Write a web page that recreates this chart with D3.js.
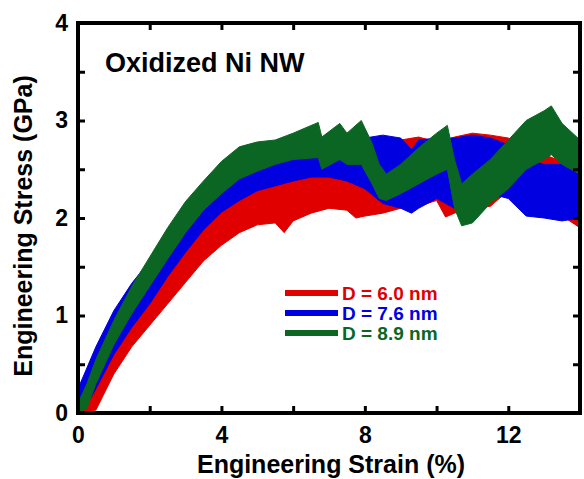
<!DOCTYPE html>
<html>
<head>
<meta charset="utf-8">
<script src="https://cdn.jsdelivr.net/npm/d3@7"></script>
<style>
  body { margin: 0; background: #fff; }
  text { font-family: "Liberation Sans", Arial, sans-serif; font-weight: bold; }
</style>
</head>
<body>
<svg class="chart"></svg>
<script>
// Total dimensions
var w = 584,
    h = 479;

// Band data: strain (%), lower and upper stress (GPa)
var redStrain = [0.1, 0.5, 1.0, 1.5, 2.0, 2.5, 3.0, 3.5, 4.0, 4.5, 5.0, 5.5, 5.75, 6.0, 6.5, 7.0, 7.5, 7.75, 8.0, 8.5, 9.0, 9.5, 10.0, 10.25, 10.5, 11.0, 11.5, 12.0, 12.5, 13.0, 13.5, 14.0];
var redLow = [0, 0.03, 0.4, 0.68, 0.9, 1.12, 1.34, 1.56, 1.72, 1.85, 1.93, 1.95, 1.85, 1.97, 2.05, 2.1, 2.08, 2.0, 2.02, 2.05, 2.1, 2.12, 2.18, 2.01, 2.05, 2.1, 2.12, 2.28, 2.32, 2.2, 2.02, 1.9];
var redHigh = [0.05, 0.45, 0.85, 1.2, 1.5, 1.78, 2.0, 2.15, 2.28, 2.36, 2.4, 2.42, 2.43, 2.44, 2.46, 2.48, 2.5, 2.5, 2.52, 2.7, 2.8, 2.83, 2.78, 2.8, 2.83, 2.87, 2.85, 2.82, 2.75, 2.65, 2.58, 2.5];

var blueStrain = [0.0, 0.2, 0.5, 1.0, 1.5, 2.0, 2.5, 3.0, 3.5, 4.0, 4.5, 5.0, 5.5, 6.0, 6.5, 7.0, 7.5, 8.0, 8.5, 9.0, 9.3, 9.5, 10.0, 10.5, 11.0, 11.5, 12.0, 12.5, 13.0, 13.5, 14.0];
var blueLow = [0, 0.05, 0.25, 0.6, 0.88, 1.12, 1.4, 1.65, 1.88, 2.06, 2.18, 2.28, 2.33, 2.38, 2.42, 2.42, 2.38, 2.3, 2.15, 2.1, 2.05, 2.1, 2.2, 2.1, 2.2, 2.25, 2.2, 2.02, 2.0, 1.97, 2.0];
var blueHigh = [0.25, 0.42, 0.68, 1.05, 1.33, 1.56, 1.8, 2.05, 2.28, 2.42, 2.52, 2.6, 2.66, 2.72, 2.75, 2.75, 2.78, 2.82, 2.85, 2.82, 2.7, 2.8, 2.82, 2.82, 2.85, 2.82, 2.75, 2.6, 2.55, 2.55, 2.45];

var greenStrain = [0.0, 0.25, 0.5, 1.0, 1.5, 2.0, 2.5, 3.0, 3.5, 4.0, 4.5, 5.0, 5.5, 6.0, 6.7, 6.8, 7.3, 7.5, 7.9, 8.2, 8.4, 8.6, 9.0, 9.5, 10.0, 10.3, 10.5, 10.7, 11.0, 11.5, 12.0, 12.5, 13.0, 13.2, 13.5, 14.0];
var greenLow = [0, 0.05, 0.3, 0.7, 1.02, 1.3, 1.58, 1.85, 2.08, 2.25, 2.4, 2.48, 2.55, 2.6, 2.62, 2.5, 2.6, 2.55, 2.55, 2.35, 2.2, 2.18, 2.25, 2.35, 2.45, 2.5, 2.1, 1.92, 1.95, 2.15, 2.3, 2.5, 2.6, 2.65, 2.55, 2.45];
var greenHigh = [0.1, 0.3, 0.55, 0.95, 1.3, 1.6, 1.9, 2.17, 2.38, 2.58, 2.73, 2.78, 2.8, 2.87, 2.98, 2.83, 2.97, 2.87, 3.0, 2.77, 2.55, 2.45, 2.55, 2.72, 2.87, 2.95, 2.6, 2.35, 2.45, 2.6, 2.8, 3.0, 3.1, 3.15, 2.97, 2.8];

// Legend labels and axis ticks
var seriesNames = ["D = 6.0 nm", "D = 7.6 nm", "D = 8.9 nm"];
var seriesColors = ["#e00000", "#0000e0", "#0b6623"];
var xTicks = [0, 2, 4, 6, 8, 10, 12, 14];
var xLabels = [0, 4, 8, 12];
var yTicks = [0, 0.5, 1, 1.5, 2, 2.5, 3, 3.5, 4];
var yLabels = [0, 1, 2, 3, 4];

var svg = d3.select(".chart")
    .attr("width", w)
    .attr("height", h);

// Margins
var margin = { top: 23, right: 4, bottom: 66, left: 78 },
    width = w - margin.left - margin.right,
    height = h - margin.top - margin.bottom,
    g = svg.append("g").attr("transform", "translate(" + margin.left + "," + margin.top + ")");

var xScale = d3.scaleLinear().domain([0, 14]).range([0, width]);
var yScale = d3.scaleLinear().domain([0, 4]).range([height, 0]);

g.append("clipPath").attr("id", "clip")
  .append("rect").attr("width", width).attr("height", height);

var series = [
  { strain: redStrain, low: redLow, high: redHigh },
  { strain: blueStrain, low: blueLow, high: blueHigh },
  { strain: greenStrain, low: greenLow, high: greenHigh }
];

var area = d3.area()
  .x(function(d) { return xScale(d.x); })
  .y0(function(d) { return yScale(d.lo); })
  .y1(function(d) { return yScale(d.hi); });

series.forEach(function(s, i) {
  var pts = s.strain.map(function(x, j) { return { x: x, lo: s.low[j], hi: s.high[j] }; });
  g.append("path")
    .datum(pts)
    .attr("clip-path", "url(#clip)")
    .attr("fill", seriesColors[i])
    .attr("stroke", seriesColors[i])
    .attr("stroke-width", 1)
    .attr("d", area);
});

// Axes with inward ticks
function fmt(labels) {
  return function(d) { return labels.indexOf(d) >= 0 ? d : ""; };
}

var axes = [
  { axis: d3.axisBottom(xScale).tickValues(xTicks).tickFormat(fmt(xLabels)).tickPadding(14), t: "translate(0," + height + ")" },
  { axis: d3.axisTop(xScale).tickValues(xTicks).tickFormat(""), t: "translate(0,0)" },
  { axis: d3.axisLeft(yScale).tickValues(yTicks).tickFormat(fmt(yLabels)).tickPadding(10), t: "translate(0,0)" },
  { axis: d3.axisRight(yScale).tickValues(yTicks).tickFormat(""), t: "translate(" + width + ",0)" }
];

axes.forEach(function(a) {
  var ag = g.append("g")
    .attr("transform", a.t)
    .call(a.axis.tickSizeInner(-7).tickSizeOuter(0));
  ag.select(".domain").remove();
  ag.selectAll(".tick line").attr("stroke", "#000").attr("stroke-width", 3);
  ag.selectAll(".tick text")
    .attr("fill", "#000")
    .style("font-size", "23px")
    .style("font-family", "'Liberation Sans', Arial, sans-serif")
    .style("font-weight", "bold");
});

// Frame
g.append("rect")
  .attr("width", width)
  .attr("height", height)
  .attr("fill", "none")
  .attr("stroke", "#000")
  .attr("stroke-width", 4);

// Axis titles
svg.append("text")
  .attr("x", 331)
  .attr("y", 473)
  .attr("text-anchor", "middle")
  .style("font-size", "25px")
  .text("Engineering Strain (%)");

svg.append("text")
  .attr("transform", "translate(32,226) rotate(-90)")
  .attr("text-anchor", "middle")
  .style("font-size", "25px")
  .text("Engineering Stress (GPa)");

// Title inside the plot
svg.append("text")
  .attr("x", 105)
  .attr("y", 72)
  .style("font-size", "27px")
  .text("Oxidized Ni NW");

// Legend
var legend = svg.append("g").attr("transform", "translate(285,293)");
seriesNames.forEach(function(name, i) {
  legend.append("line")
    .attr("x1", 0).attr("x2", 53)
    .attr("y1", i * 20).attr("y2", i * 20)
    .attr("stroke", seriesColors[i])
    .attr("stroke-width", 6);
  legend.append("text")
    .attr("x", 57)
    .attr("y", i * 20 + 7)
    .attr("fill", seriesColors[i])
    .style("font-size", "19px")
    .text(name);
});
</script>
</body>
</html>
